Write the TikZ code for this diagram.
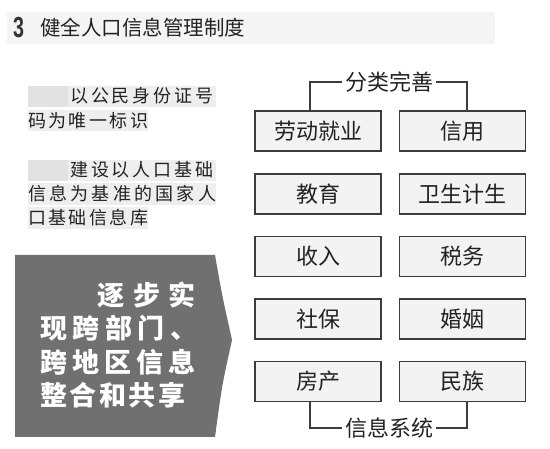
\documentclass[tikz,border=0pt]{standalone}
\usepackage{fontspec}
\usepackage{graphicx}
\setmainfont{Noto Sans CJK SC}
\newfontfamily\latinf{Liberation Sans}
\definecolor{darkbox}{HTML}{707070}
\definecolor{boxborder}{HTML}{3C3C3C}
\definecolor{boxfill}{HTML}{F3F3F3}
\definecolor{titlebg}{HTML}{F4F4F4}
\definecolor{bandbg}{HTML}{EEEEEE}
\definecolor{bandind}{HTML}{E2E2E2}
\definecolor{txt}{HTML}{222222}
\makeatletter
\newcommand\spreadtext[2]{\makebox[#1][s]{\let\sp@first\relax\@tfor\sp@c:=#2\do{\ifx\sp@first\relax\else\hfill\fi\sp@c\let\sp@first\@empty}}}
\makeatother
\tikzset{
  catbox/.style={draw=boxborder, fill=boxfill, line width=1.3pt, minimum width=126pt, minimum height=40pt, inner sep=0pt, font=\fontsize{22}{22}\selectfont, text=txt},
  bracketlabel/.style={fill=white, inner sep=3pt, font=\fontsize{22}{22}\selectfont, text=txt},
  bracket/.style={draw=boxborder, line width=1.1pt},
  lefttext/.style={anchor=west, inner sep=0pt, font=\fontsize{18}{18}\selectfont, text=txt},
  whitetext/.style={inner sep=0pt, font=\fontsize{27}{27}\selectfont\bfseries, text=white}
}
\begin{document}
\begin{tikzpicture}[x=1pt,y=-1pt]
\useasboundingbox (0,0) rectangle (550,449);
\fill[white] (0,0) rectangle (550,449);
% title bar
\fill[titlebg] (7,12) rectangle (495,44);
\node[anchor=west, inner sep=0pt, text=boxborder!85!black, font=\latinf\bfseries\fontsize{29}{29}\selectfont] (num) at (13,28) {\scalebox{0.68}[1]{3}};
\node[anchor=west, inner sep=0pt, text=txt, font=\fontsize{20.5}{20.5}\selectfont] (title) at (40,28) {健全人口信息管理制度};
% left text bands
\fill[bandbg] (28,86) rectangle (216,107);
\fill[bandind] (28,86) rectangle (68,107);
\fill[bandbg] (28,110) rectangle (148,131);
\fill[bandbg] (28,160) rectangle (216,181);
\fill[bandind] (28,160) rectangle (68,181);
\fill[bandbg] (28,183) rectangle (216,205);
\fill[bandbg] (28,207) rectangle (148,229);
\node[lefttext] (l1a) at (70,96) {\spreadtext{143pt}{以公民身份证号}};
\node[lefttext] (l1b) at (28,121) {\spreadtext{120pt}{码为唯一标识}};
\node[lefttext] (l2a) at (70,170) {\spreadtext{143pt}{建设以人口基础}};
\node[lefttext] (l2b) at (28,194) {\spreadtext{188pt}{信息为基准的国家人}};
\node[lefttext] (l2c) at (28,218) {\spreadtext{120pt}{口基础信息库}};
% dark arrow box
\fill[darkbox] (15,255) -- (215,255) .. controls (222,295) .. (232,340) .. controls (222,385) .. (215,437) -- (15,437) -- cycle;
\node[whitetext, anchor=east] (w1) at (196,295) {\spreadtext{98pt}{逐步实}};
\node[whitetext, anchor=west] (w2) at (40,328) {\spreadtext{157pt}{现跨部门、}};
\node[whitetext, anchor=west] (w3) at (40,362) {\spreadtext{155pt}{跨地区信息}};
\node[whitetext, anchor=west] (w4) at (40,395) {\spreadtext{145pt}{整合和共享}};
% category boxes
\node[catbox] (a1) at (318,131) {劳动就业};
\node[catbox] (b1) at (462.5,131) {信用};
\node[catbox] (a2) at (318,194) {教育};
\node[catbox] (b2) at (462.5,194) {卫生计生};
\node[catbox] (a3) at (318,256.5) {收入};
\node[catbox] (b3) at (462.5,256.5) {税务};
\node[catbox] (a4) at (318,319) {社保};
\node[catbox] (b4) at (462.5,319) {婚姻};
\node[catbox] (a5) at (318,381.5) {房产};
\node[catbox] (b5) at (462.5,381.5) {民族};
% brackets
\node[bracketlabel] (top) at (389,82) {分类完善};
\coordinate (tl) at (310,82);
\coordinate (tr) at (467,82);
\draw[bracket] (tl |- a1.north) -- (tl) -- (top.west);
\draw[bracket] (top.east) -- (tr) -- (tr |- b1.north);
\node[bracketlabel] (bot) at (389,428) {信息系统};
\coordinate (bl) at (310,428);
\coordinate (br) at (467,428);
\draw[bracket] (bl |- a5.south) -- (bl) -- (bot.west);
\draw[bracket] (bot.east) -- (br) -- (br |- b5.south);
\end{tikzpicture}
\end{document}
